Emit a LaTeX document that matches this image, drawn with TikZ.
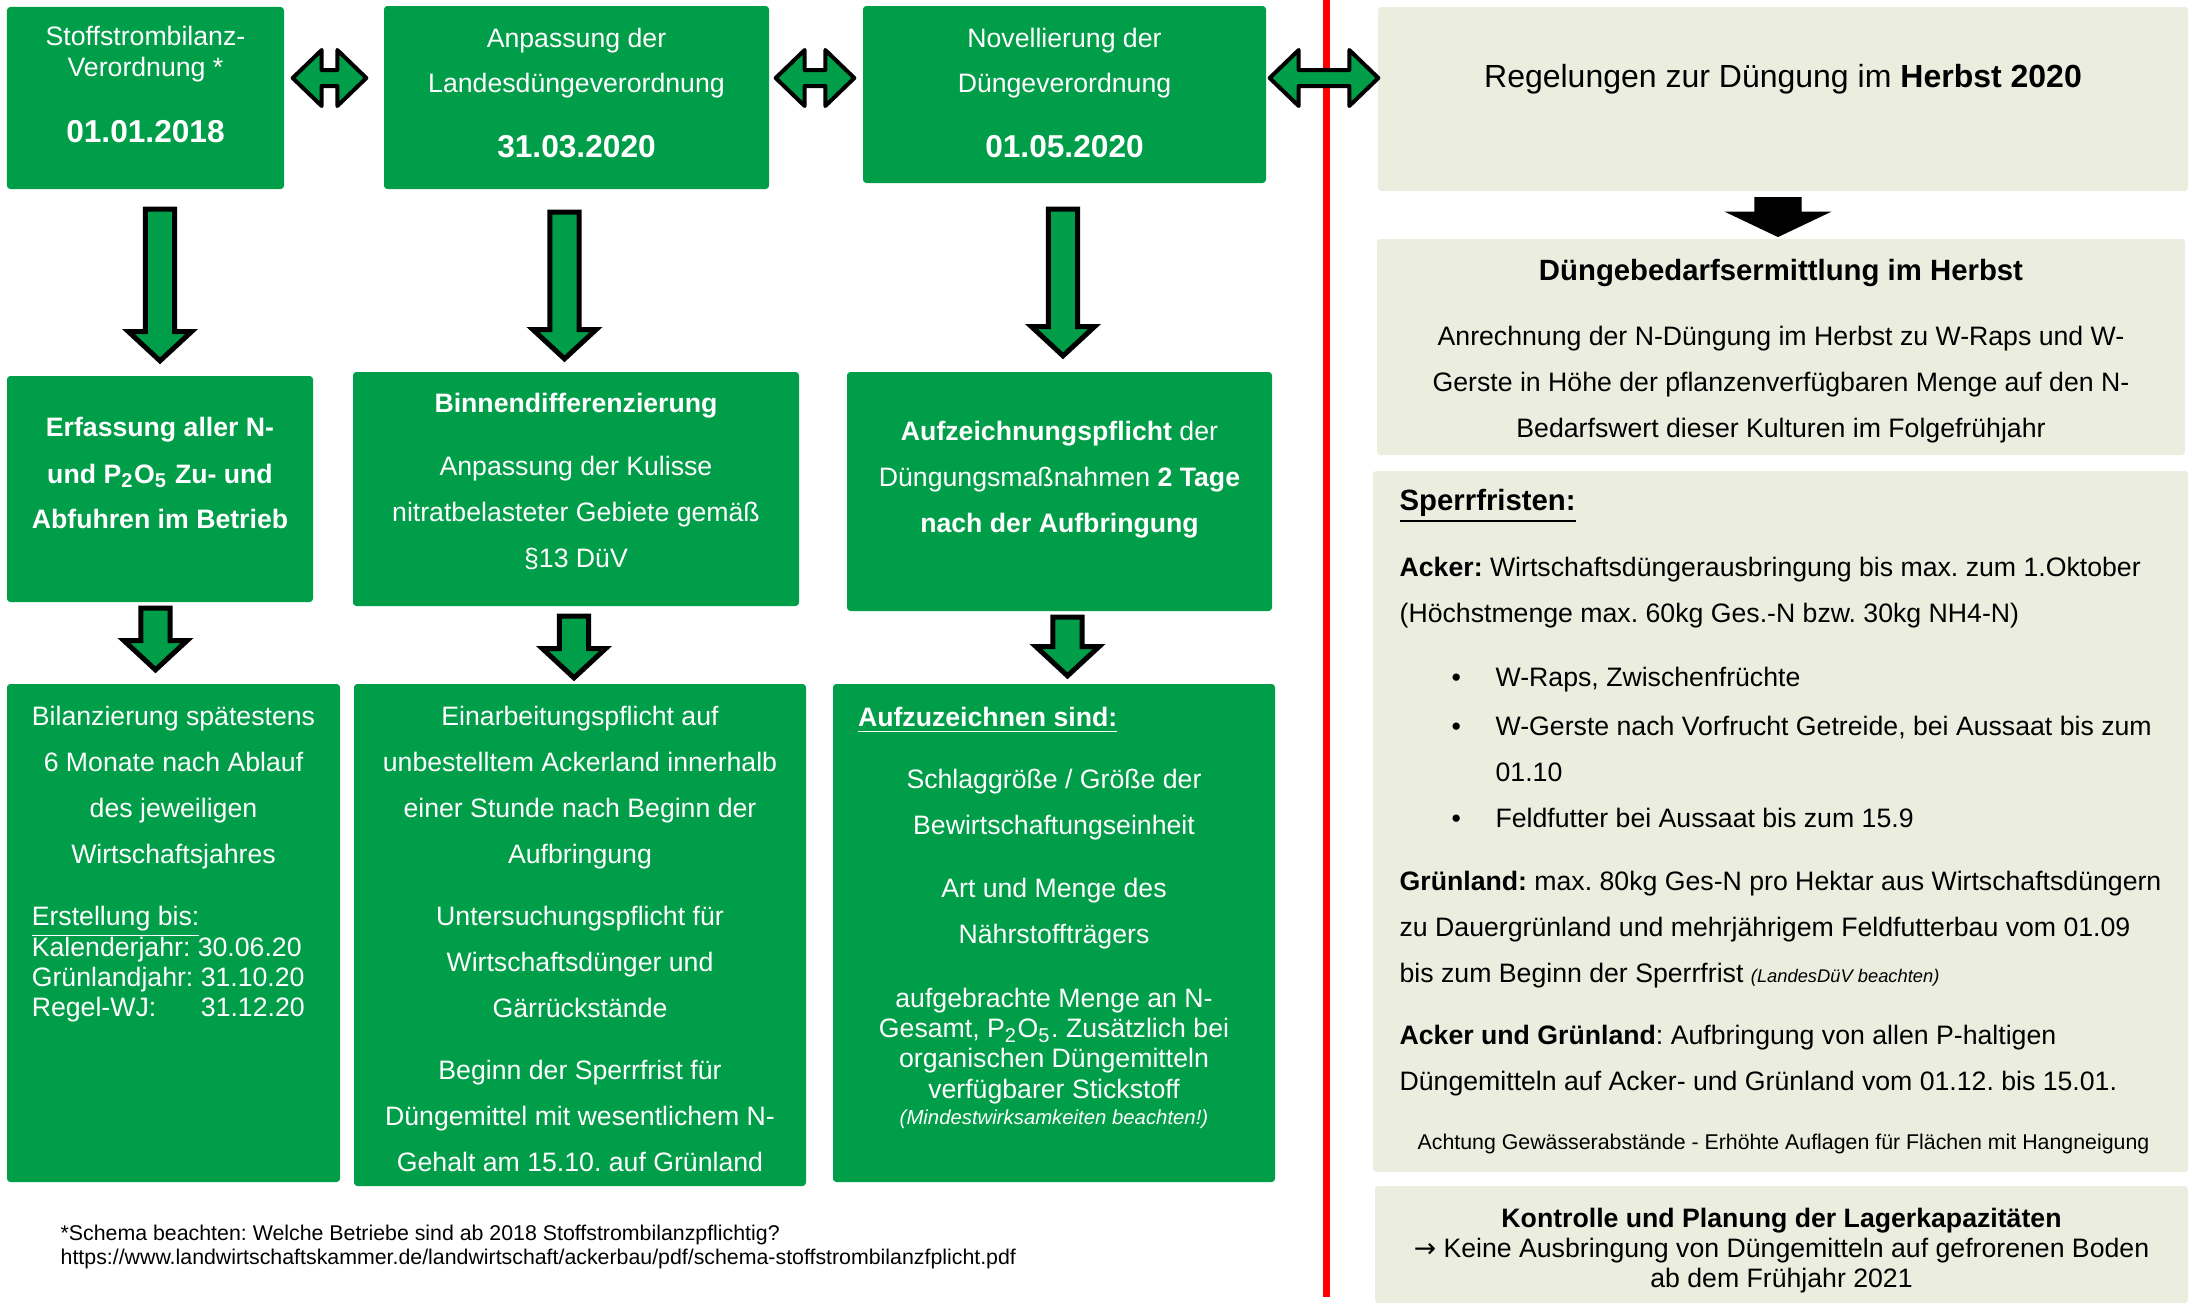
\documentclass[tikz,border=0pt]{standalone}
\usepackage{fontspec}
\setmainfont{Liberation Sans}
\newfontfamily\pfeilfont{DejaVu Sans}
\usepackage{xcolor}
\usetikzlibrary{calc}
\frenchspacing
\definecolor{dgruen}{RGB}{0,158,73}
\definecolor{hellgrau}{RGB}{235,238,223}
\newcommand{\datum}[1]{{\fontsize{9.5}{9.3}\selectfont\bfseries #1}}
\newcommand{\tief}[1]{\rule[-#1]{0pt}{#1}}
\newcommand{\hoch}[1]{\rule{0pt}{#1}}
\newcommand{\punkt}{\hspace*{15.6pt}\makebox[13.2pt][l]{\textbullet}}
\tikzstyle{gruen} = [rectangle, rounded corners=1pt, fill=dgruen, text=white, align=center, inner sep=0pt, font=\fontsize{8}{13.8}\selectfont]
\tikzstyle{grau} = [rectangle, rounded corners=1pt, fill=hellgrau, text=black, align=center, inner sep=0pt, font=\fontsize{8}{13.8}\selectfont]
\tikzstyle{pfeil} = [draw=black, line width=1.5pt, fill=dgruen, to path={let \p1=(\tikztostart), \p2=(\tikztotarget) in (\x2-4.4pt,\y1) -- (\x2-4.4pt,\y2+8.8pt) -- (\x2-9.5pt,\y2+8.8pt) -- (\x2,\y2) -- (\x2+9.5pt,\y2+8.8pt) -- (\x2+4.4pt,\y2+8.8pt) -- (\x2+4.4pt,\y1) -- cycle}]
\tikzstyle{doppelpfeil} = [draw=black, line width=1.2pt, line join=round, fill=dgruen, to path={let \p1=(\tikztostart), \p2=(\tikztotarget) in (\x1,\y1) -- (\x1+8.7pt,\y1+8.4pt) -- (\x1+8.7pt,\y1+2.4pt) -- (\x2-8.7pt,\y1+2.4pt) -- (\x2-8.7pt,\y1+8.4pt) -- (\x2,\y1) -- (\x2-8.7pt,\y1-8.4pt) -- (\x2-8.7pt,\y1-2.4pt) -- (\x1+8.7pt,\y1-2.4pt) -- (\x1+8.7pt,\y1-8.4pt) -- cycle}]
\tikzstyle{schwarzpfeil} = [fill=black, to path={let \p1=(\tikztostart), \p2=(\tikztotarget) in (\x2-6.9pt,\y1) -- (\x2-6.9pt,\y2+7.2pt) -- (\x2-15.15pt,\y2+7.2pt) -- (\x2,\y2) -- (\x2+15.15pt,\y2+7.2pt) -- (\x2+6.9pt,\y2+7.2pt) -- (\x2+6.9pt,\y1) -- cycle}]

\begin{document}
\begin{tikzpicture}[node distance=117.3pt]
\useasboundingbox (0,0) rectangle (657pt,-390.9pt);

\node (stoff) [gruen, minimum width=83.1pt, minimum height=54.6pt, font=\fontsize{8}{9.3}\selectfont] at (43.65pt,-29.4pt) {Stoffstrombilanz-\\Verordnung *\\[10.5pt]\datum{01.01.2018}\tief{8pt}};
\node (anp) [gruen, right of=stoff, xshift=12pt, yshift=0.15pt, minimum width=115.5pt, minimum height=54.9pt, font=\fontsize{8}{13.5}\selectfont] {Anpassung der\\Landesdüngeverordnung\\[6pt]\datum{31.03.2020}\tief{2.6pt}};
\node (novell) [gruen, right of=anp, xshift=29.1pt, yshift=0.9pt, minimum width=120.9pt, minimum height=53.1pt, font=\fontsize{8}{13.5}\selectfont] {Novellierung der\\Düngeverordnung\\[6pt]\datum{01.05.2020}\tief{0.8pt}};
\node (regel) [grau, right of=novell, xshift=98.25pt, yshift=-1.35pt, minimum width=243pt, minimum height=55.2pt, font=\fontsize{9.6}{11}\selectfont] {Regelungen zur Düngung im \textbf{Herbst 2020}\tief{13.8pt}};

\node (erf) [gruen, below of=stoff, xshift=4.35pt, minimum width=91.8pt, minimum height=67.8pt, font=\fontsize{8}{13.8}\selectfont\bfseries] {Erfassung aller N-\\und P\textsubscript{2}O\textsubscript{5} Zu- und\\Abfuhren im Betrieb\tief{9.4pt}};
\node (binnen) [gruen, below of=anp, xshift=-0.15pt, yshift=-0.15pt, minimum width=133.8pt, minimum height=70.2pt] {\textbf{Binnendifferenzierung}\\[5.1pt]Anpassung der Kulisse\\nitratbelasteter Gebiete gemäß\\§13 DüV\tief{5.2pt}};
\node (aufz) [gruen, below of=novell, xshift=-1.5pt, yshift=-1.8pt, minimum width=127.5pt, minimum height=71.7pt] {\textbf{Aufzeichnungspflicht} der\\Düngungsmaßnahmen \textbf{2 Tage}\\\textbf{nach der Aufbringung}\tief{8.6pt}};

\node (bil) [gruen, below of=erf, xshift=4.05pt, yshift=-15.9pt, minimum width=99.9pt, minimum height=149.4pt] {Bilanzierung spätestens\\6 Monate nach Ablauf\\des jeweiligen\\Wirtschaftsjahres\\[4.8pt]\makebox[85pt][l]{\underline{Erstellung bis:}}\\[-4.5pt]\makebox[85pt][l]{Kalenderjahr: 30.06.20}\\[-4.8pt]\makebox[85pt][l]{Grünlandjahr: 31.10.20}\\[-4.8pt]\makebox[85pt][l]{Regel-WJ:\hspace{13.4pt}31.12.20}\tief{43.3pt}};
\node (einarb) [gruen, below of=binnen, xshift=1.2pt, yshift=-16.5pt, minimum width=135.6pt, minimum height=150.6pt] {\hoch{8.4pt}Einarbeitungspflicht auf\\unbestelltem Ackerland innerhalb\\einer Stunde nach Beginn der\\Aufbringung\\[4.8pt]Untersuchungspflicht für\\Wirtschaftsdünger und\\Gärrückstände\\[4.8pt]Beginn der Sperrfrist für\\Düngemittel mit wesentlichem N-\\Gehalt am 15.10. auf Grünland};
\node (aufzu) [gruen, below of=aufz, xshift=-1.65pt, yshift=-15.15pt, minimum width=132.6pt, minimum height=149.4pt] {\makebox[117.6pt][l]{\textbf{\underline{Aufzuzeichnen sind:}}}\\[4.8pt]Schlaggröße / Größe der\\Bewirtschaftungseinheit\\[5.1pt]Art und Menge des\\Nährstoffträgers\\[5.4pt]aufgebrachte Menge an N-\\[-4.8pt]Gesamt, P\textsubscript{2}O\textsubscript{5}. Zusätzlich bei\\[-4.8pt]organischen Düngemitteln\\[-4.5pt]verfügbarer Stickstoff\\[-6.2pt]{\fontsize{6.1}{7}\selectfont\itshape (Mindestwirksamkeiten beachten!)\tief{10.3pt}}};

\node (bedarf) [grau, below of=regel, xshift=-0.6pt, yshift=42.9pt, minimum width=242.4pt, minimum height=64.8pt] {\hoch{9pt}{\fontsize{8.8}{10}\selectfont\bfseries Düngebedarfsermittlung im Herbst}\\[5.7pt]Anrechnung der N-Düngung im Herbst zu W-Raps und W-\\Gerste in Höhe der pflanzenverfügbaren Menge auf den N-\\Bedarfswert dieser Kulturen im Folgefrühjahr};
\node (sperr) [grau, below of=bedarf, xshift=-0.15pt, yshift=-25.05pt, minimum width=244.5pt, minimum height=210.3pt, align=left] {{\fontsize{8.8}{10}\selectfont\bfseries\underline{Sperrfristen:}}\\[6pt]\textbf{Acker:} Wirtschaftsdüngerausbringung bis max. zum 1.Oktober\\(Höchstmenge max. 60kg Ges.-N bzw. 30kg NH4-N)\\[5.4pt]\punkt W-Raps, Zwischenfrüchte\\[1pt]\punkt W-Gerste nach Vorfrucht Getreide, bei Aussaat bis zum\\\hspace*{28.8pt}01.10\\\punkt Feldfutter bei Aussaat bis zum 15.9\\[5.1pt]\textbf{Grünland:} max. 80kg Ges-N pro Hektar aus Wirtschaftsdüngern\\zu Dauergrünland und mehrjährigem Feldfutterbau vom 01.09\\bis zum Beginn der Sperrfrist {\fontsize{5.5}{6}\selectfont\itshape (LandesDüV beachten)}\\[4.8pt]\textbf{Acker und Grünland}: Aufbringung von allen P-haltigen\\Düngemitteln auf Acker- und Grünland vom 01.12. bis 15.01.\\[3.9pt]\hspace*{5.4pt}{\fontsize{6.4}{7}\selectfont Achtung Gewässerabstände - Erhöhte Auflagen für Flächen mit Hangneigung}};
\node (lager) [grau, below of=sperr, xshift=0.3pt, yshift=-9.6pt, minimum width=243.9pt, minimum height=35.1pt, font=\fontsize{8}{9}\selectfont] {\hoch{9.2pt}\textbf{Kontrolle und Planung der Lagerkapazitäten}\\{\pfeilfont →} Keine Ausbringung von Düngemitteln auf gefrorenen Boden\\ab dem Frühjahr 2021};

\node (fuss) [anchor=west, align=left, inner sep=0pt, font=\fontsize{6.4}{7.2}\selectfont] at (18pt,-374pt) {*Schema beachten: Welche Betriebe sind ab 2018 Stoffstrombilanzpflichtig?\\https://www.landwirtschaftskammer.de/landwirtschaft/ackerbau/pdf/schema-stoffstrombilanzfplicht.pdf};

\draw [red, line width=2.1pt] (397.8pt,0pt) -- (397.8pt,-389.1pt);

\draw [doppelpfeil] ([xshift=2.4pt,yshift=6pt]stoff.east) to ([xshift=-5.1pt]anp.west);
\draw [doppelpfeil] ([xshift=1.8pt,yshift=5.85pt]anp.east) to ([xshift=-2.4pt]novell.west);
\draw [doppelpfeil] ([xshift=0.9pt,yshift=4.95pt]novell.east) to ([xshift=0.3pt]regel.west);

\draw [pfeil] ([yshift=-5.85pt]stoff.south) to ([yshift=4.35pt]erf.north);
\draw [pfeil] ([yshift=-6.75pt]anp.south) to ([xshift=-3.45pt,yshift=3.75pt]binnen.north);
\draw [pfeil] ([yshift=-7.65pt]novell.south) to ([xshift=1.05pt,yshift=4.65pt]aufz.north);
\draw [pfeil] ([yshift=-1.65pt]erf.south) to ([xshift=-5.4pt,yshift=4.05pt]bil.north);
\draw [pfeil] ([yshift=-2.85pt]binnen.south) to ([xshift=-1.8pt,yshift=1.65pt]einarb.north);
\draw [pfeil] ([yshift=-1.65pt]aufz.south) to ([xshift=4.05pt,yshift=2.25pt]aufzu.north);

\draw [schwarzpfeil] ([yshift=-1.8pt]regel.south) to ([xshift=-0.9pt,yshift=0.6pt]bedarf.north);
\end{tikzpicture}
\end{document}
